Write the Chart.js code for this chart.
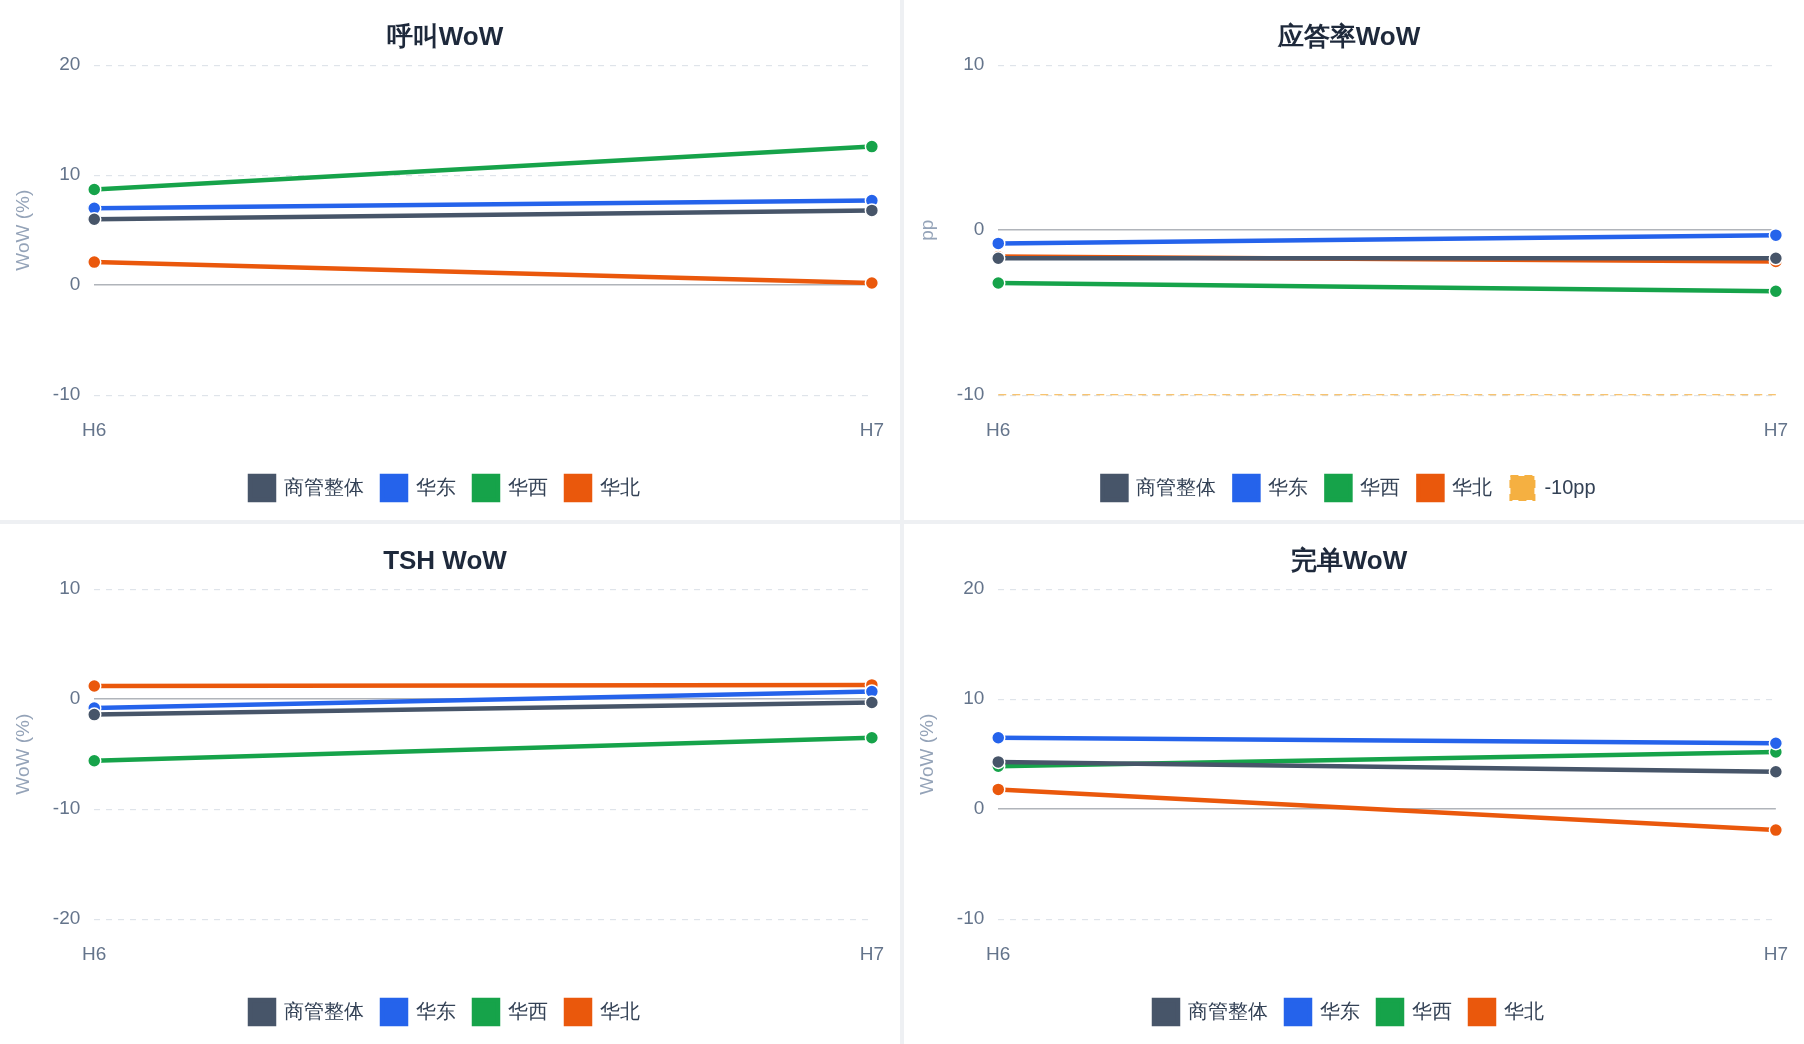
<!DOCTYPE html>
<html><head><meta charset="utf-8">
<script src="https://cdn.jsdelivr.net/npm/chart.js@4"></script>
<style>
body{margin:0;background:#fff;font-family:"Liberation Sans","Noto Sans CJK SC",sans-serif}
#grid{display:grid;grid-template-columns:900px 900px;grid-template-rows:520px 520px;gap:4px;background:#eef0f3;width:1804px;height:1044px}
.cell{background:#fff;position:relative}
</style></head><body>
<div id="grid">
<div class="cell"><canvas id="c1"></canvas></div>
<div class="cell"><canvas id="c2"></canvas></div>
<div class="cell"><canvas id="c3"></canvas></div>
<div class="cell"><canvas id="c4"></canvas></div>
</div>
<script>
const labels = ["H6", "H7"];
const names = ["商管整体", "华东", "华西", "华北"];
const colors = ["#475569", "#2563eb", "#16a34a", "#ea580c"];

const callWoW = [[6.0, 6.8], [7.0, 7.7], [8.7, 12.6], [2.1, 0.2]];
const answerWoW = [[-1.7, -1.7], [-0.8, -0.3], [-3.2, -3.7], [-1.6, -1.9]];
const tshWoW = [[-1.4, -0.3], [-0.8, 0.7], [-5.6, -3.5], [1.2, 1.3]];
const doneWoW = [[4.3, 3.4], [6.5, 6.0], [3.9, 5.2], [1.8, -1.9]];
const refLine = [-10, -10];

function makeChart(id, title, series, min, max, yTitle, withRef) {
  const datasets = series.map((d, i) => ({
    label: names[i], data: d, borderColor: colors[i], backgroundColor: colors[i],
    borderWidth: 4.5, pointRadius: 6.5, pointBorderColor: "#fff", pointBorderWidth: 1.5
  }));
  if (withRef) {
    datasets.push({
      label: "-10pp", data: refLine, borderColor: "#f5b041", backgroundColor: "#f5b041",
      borderWidth: 2, borderDash: [8, 6], pointRadius: 0
    });
  }
  new Chart(document.getElementById(id), {
    type: "line",
    data: { labels: labels, datasets: datasets },
    options: {
      responsive: false, animation: false,
      layout: { padding: { left: 8, right: 18, top: 10, bottom: 10 } },
      plugins: {
        title: { display: true, text: title, color: "#1e293b", font: { size: 26, weight: "bold" }, padding: { top: 12, bottom: 12 } },
        legend: {
          position: "bottom",
          labels: { boxWidth: 24, boxHeight: 24, color: "#334155", font: { size: 20 }, padding: 18 }
        },
        tooltip: { enabled: false }
      },
      scales: {
        x: {
          offset: false, grid: { display: false }, border: { display: false },
          ticks: { color: "#64748b", font: { size: 19 }, padding: 16 }
        },
        y: {
          min: min, max: max,
          ticks: { stepSize: 10, color: "#64748b", font: { size: 19 }, padding: 14 },
          border: { display: false, dash: ctx => ctx.tick.value === 0 ? [] : [6, 6] },
          title: { display: true, text: yTitle, color: "#94a3b8", font: { size: 19 } },
          grid: {
            drawTicks: false,
            color: ctx => ctx.tick.value === 0 ? "#b0b4ba" : "#dfe4ea",
            lineWidth: ctx => ctx.tick.value === 0 ? 1.5 : 1.2
          }
        }
      }
    }
  });
}

document.querySelectorAll("canvas").forEach(c => { c.width = 900; c.height = 520; });
makeChart("c1", "呼叫WoW", callWoW, -10, 20, "WoW (%)", false);
makeChart("c2", "应答率WoW", answerWoW, -10, 10, "pp", true);
makeChart("c3", "TSH WoW", tshWoW, -20, 10, "WoW (%)", false);
makeChart("c4", "完单WoW", doneWoW, -10, 20, "WoW (%)", false);
</script>
</body></html>
